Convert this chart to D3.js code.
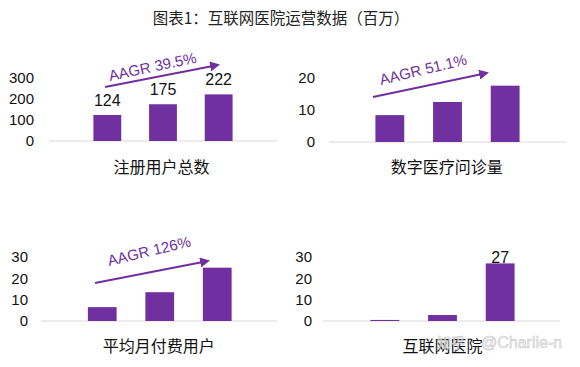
<!DOCTYPE html>
<html><head><meta charset="utf-8">
<script src="https://cdn.jsdelivr.net/npm/d3@7"></script>
<style>body{margin:0;background:#fff}svg{display:block}</style>
</head><body>
<svg id="chart" width="580" height="367"></svg>
<script>
const chartTitle = "图表1：互联网医院运营数据（百万）";
const categories = ["Y1", "Y2", "Y3"];
const panelTitles = ["注册用户总数", "数字医疗问诊量", "平均月付费用户", "互联网医院"];
const registeredUsers = [124, 175, 222];
const digitalConsults = [8.4, 12.5, 17.6];
const payingUsers = [6.5, 13.5, 25];
const internetHospitals = [0.5, 2.8, 27];
const yTicksRegistered = [0, 100, 200, 300];
const yTicksConsults = [0, 10, 20];
const yTicksPaying = [0, 10, 20, 30];
const yTicksHospitals = [0, 10, 20, 30];
const aagrLabels = ["AAGR 39.5%", "AAGR 51.1%", "AAGR 126%", null];
const valueLabels = [["124", "175", "222"], null, null, [null, null, "27"]];

const seriesList = [registeredUsers, digitalConsults, payingUsers, internetHospitals];
const tickList = [yTicksRegistered, yTicksConsults, yTicksPaying, yTicksHospitals];

// layout (positions only)
const layout = [
  {yBase:141, yTop:78, xr:[79.5,246.5], axis:[49,277], lblX:34, catX:161.5, catY:166, labelGap:9,
   arrow:[105,87,218,65], txt:[110,81,-12]},
  {yBase:142, yTop:78, xr:[361,534], axis:[329,566], lblX:315, catX:446.7, catY:166, labelGap:9,
   arrow:[373,97,487,73], txt:[381,85,-13.5]},
  {yBase:321, yTop:257, xr:[73.5,246], axis:[41,277], lblX:28, catX:158.7, catY:345, labelGap:9,
   arrow:[95,283,208,261], txt:[109,266,-13.5]},
  {yBase:321, yTop:257, xr:[356,529], axis:[323,560], lblX:312, catX:442.6, catY:345, labelGap:0,
   arrow:null, txt:null}
];

const purple = "#7030A0";
const latin = "'Liberation Sans', Arial, sans-serif";
const cjk = "'Noto Sans CJK SC', 'Liberation Sans', sans-serif";
const svg = d3.select("#chart");

const defs = svg.append("defs");
defs.append("marker").attr("id","arrowhead").attr("viewBox","0 0 10 10")
  .attr("refX",8).attr("refY",5).attr("markerWidth",5).attr("markerHeight",5)
  .attr("orient","auto")
  .append("path").attr("d","M0,0 L10,5 L0,10 Z").attr("fill",purple);

svg.append("text").attr("x",281).attr("y",17).attr("text-anchor","middle")
  .attr("dominant-baseline","central").attr("font-family",cjk).attr("font-size",15.5)
  .attr("fill","#222").text(chartTitle);

layout.forEach((L, i) => {
  const data = seriesList[i];
  const ticks = tickList[i];
  const g = svg.append("g");
  const y = d3.scaleLinear().domain([0, d3.max(ticks)]).range([L.yBase, L.yTop]);
  const x = d3.scaleBand().domain(categories).range(L.xr).paddingInner(0.5).paddingOuter(0.25);

  // baseline
  g.append("line").attr("x1",L.axis[0]).attr("x2",L.axis[1])
    .attr("y1",y(0)).attr("y2",y(0)).attr("stroke","#d9d9d9").attr("stroke-width",1);

  // y axis labels
  const ax = d3.axisLeft(y).tickValues(ticks).tickSize(0).tickPadding(0).tickFormat(d3.format("d"));
  const axg = g.append("g").attr("transform",`translate(${L.lblX},0)`).call(ax);
  axg.select(".domain").remove();
  axg.selectAll("text").attr("font-family",latin).attr("font-size",15).attr("fill","#111");

  // bars
  g.selectAll("rect.bar").data(data).join("rect").attr("class","bar")
    .attr("x",(d,j)=>x(categories[j])).attr("width",x.bandwidth())
    .attr("y",d=>y(d)).attr("height",d=>y(0)-y(d)).attr("fill",purple);

  // value labels
  if (valueLabels[i]) {
    valueLabels[i].forEach((lab, j) => {
      if (!lab) return;
      g.append("text").attr("x",x(categories[j])+x.bandwidth()/2)
        .attr("y",y(data[j]) - L.labelGap).attr("text-anchor","middle")
        .attr("font-family",latin).attr("font-size",16).attr("fill","#111").text(lab);
    });
  }

  // arrow + AAGR
  if (L.arrow && aagrLabels[i]) {
    const a = L.arrow;
    g.append("line").attr("x1",a[0]).attr("y1",a[1]).attr("x2",a[2]).attr("y2",a[3])
      .attr("stroke",purple).attr("stroke-width",2).attr("marker-end","url(#arrowhead)");
    g.append("text").attr("transform",`translate(${L.txt[0]},${L.txt[1]}) rotate(${L.txt[2]})`)
      .attr("font-family",latin).attr("font-size",15).attr("fill",purple).text(aagrLabels[i]);
  }

  // category title
  g.append("text").attr("x",L.catX).attr("y",L.catY)
    .attr("text-anchor","middle").attr("dominant-baseline","central")
    .attr("font-family",cjk).attr("font-size",16).attr("fill","#111").text(panelTitles[i]);
});

// watermark
const wm = svg.append("g").attr("opacity",0.85).attr("font-size",16)
  .attr("fill","#eeeeee").attr("stroke","#c4c4c4").attr("stroke-width",0.6);
wm.append("text").attr("x",437).attr("y",342).attr("dominant-baseline","central")
  .attr("font-family",cjk).attr("font-size",14).text("知乎");
wm.append("text").attr("x",481).attr("y",342).attr("dominant-baseline","central")
  .attr("font-family",latin).text("@Charlie-n");
</script>
</body></html>
